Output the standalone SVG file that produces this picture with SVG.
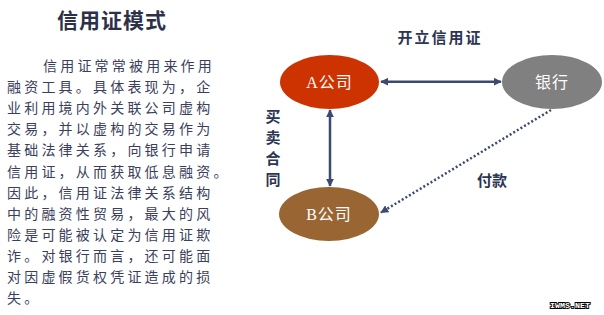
<svg xmlns="http://www.w3.org/2000/svg" width="604" height="315" viewBox="0 0 604 315">
<style>
.body{font-family:"Noto Sans CJK SC","Noto Sans",sans-serif;font-size:14px;fill:#3a405c;letter-spacing:3.2px}
.title{font-family:"Noto Sans CJK SC",sans-serif;font-size:21px;fill:#2c3148;font-weight:bold;letter-spacing:1px}
.lbl{font-family:"Noto Sans CJK SC",sans-serif;font-size:15px;fill:#2c3552;font-weight:bold}
.ntext{font-family:"Liberation Serif","Noto Sans CJK SC",serif;font-size:16px;fill:#ffffff;text-anchor:middle;dominant-baseline:central;letter-spacing:1px}
.conn{stroke:#3d4a70;stroke-width:2.5;fill:none}
</style>
<defs>
<marker id="ah" viewBox="0 0 10 10" refX="9" refY="5" markerWidth="8" markerHeight="8" markerUnits="userSpaceOnUse" orient="auto-start-reverse">
<path d="M0,0 L10,5 L0,10 z" fill="#3d4a70"/>
</marker>
</defs>
<rect width="604" height="315" fill="#ffffff"/>
<text class="title" x="112" y="28" text-anchor="middle">信用证模式</text>
<g id="body-text">
<text class="body" x="43" y="71">信用证常常被用来作用</text>
<text class="body" x="7" y="92">融资工具。具体表现为，企</text>
<text class="body" x="7" y="113">业利用境内外关联公司虚构</text>
<text class="body" x="7" y="134">交易，并以虚构的交易作为</text>
<text class="body" x="7" y="155">基础法律关系，向银行申请</text>
<text class="body" x="7" y="177">信用证，从而获取低息融资。</text>
<text class="body" x="7" y="198">因此，信用证法律关系结构</text>
<text class="body" x="7" y="219">中的融资性贸易，最大的风</text>
<text class="body" x="7" y="240">险是可能被认定为信用证欺</text>
<text class="body" x="7" y="261">诈。对银行而言，还可能面</text>
<text class="body" x="7" y="282">对因虚假货权凭证造成的损</text>
<text class="body" x="7" y="303">失。</text>
</g>
<g id="connectors">
<line class="conn" x1="381" y1="81.7" x2="501" y2="81.7" marker-start="url(#ah)" marker-end="url(#ah)"/>
<line class="conn" x1="330" y1="110" x2="330" y2="186" marker-start="url(#ah)" marker-end="url(#ah)"/>
<line class="conn" x1="551" y1="110" x2="381" y2="212.5" stroke-dasharray="2 2.2" marker-end="url(#ah)"/>
</g>
<g id="node-a">
<ellipse cx="329.5" cy="82" rx="49.5" ry="27" fill="#cc3300"/>
<text class="ntext" x="329.5" y="82">A公司</text>
</g>
<g id="node-bank">
<ellipse cx="552" cy="82" rx="50" ry="27" fill="#808080"/>
<text class="ntext" x="552" y="82" fill="#f2f2f2">银行</text>
</g>
<g id="node-b">
<ellipse cx="329" cy="214" rx="50" ry="27" fill="#996633"/>
<text class="ntext" x="329" y="214">B公司</text>
</g>
<g id="labels">
<text class="lbl" x="440" y="43" text-anchor="middle" letter-spacing="2">开立信用证</text>
<text class="lbl" x="273" y="122" text-anchor="middle">买</text>
<text class="lbl" x="273" y="143" text-anchor="middle">卖</text>
<text class="lbl" x="273" y="164" text-anchor="middle">合</text>
<text class="lbl" x="273" y="185" text-anchor="middle">同</text>
<text class="lbl" x="492" y="186" text-anchor="middle" font-size="16">付款</text>
</g>
<text x="570" y="307.5" text-anchor="middle" font-family="Liberation Mono,monospace" font-size="8" font-weight="bold" fill="#ffffff" stroke="#000000" stroke-width="1.8" paint-order="stroke" textLength="40" lengthAdjust="spacingAndGlyphs">IWMS.NET</text>
</svg>
